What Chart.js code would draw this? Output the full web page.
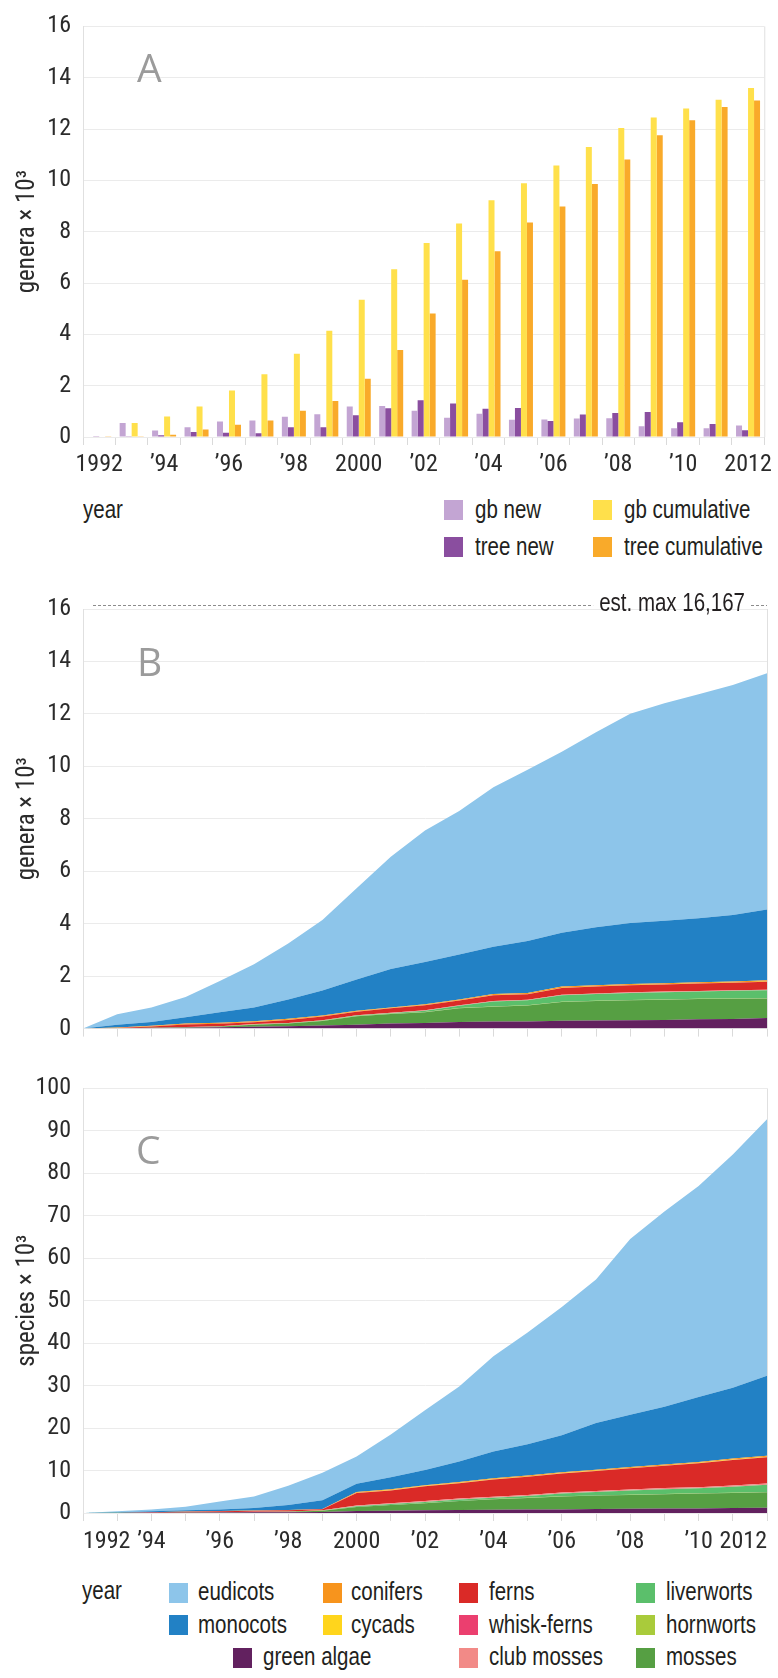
<!DOCTYPE html>
<html>
<head>
<meta charset="utf-8">
<script src="https://cdn.jsdelivr.net/npm/chart.js@4.4.1/dist/chart.umd.min.js"></script>
<style>
  body { margin: 0; background: #fff; width: 778px; height: 1678px; position: relative; overflow: hidden;
         font-family: 'Liberation Sans', Arial, sans-serif; color: #231f20; }
  canvas { position: absolute; left: 0; }
  .lbl { position: absolute; font-size: 25px; line-height: 25px; white-space: nowrap;
         transform: scaleX(0.82); transform-origin: 0 0; }
  .sw { position: absolute; width: 19px; height: 20px; }
  .panel { position: absolute; font-family: 'Open Sans', sans-serif; font-size: 39px; line-height: 39px; color: #9b9b9b; }
</style>
</head>
<body>
<canvas id="chartA" width="778" height="490" style="top:0px"></canvas>
<canvas id="chartB" width="778" height="480" style="top:575px"></canvas>
<canvas id="chartC" width="778" height="500" style="top:1062px"></canvas>
<div class="panel" style="left:137px;top:47px">A</div>
<div class="panel" style="left:137px;top:641px">B</div>
<div class="panel" style="left:136px;top:1129px">C</div>
<div id="legends"></div>
<script>
// ---- data ----
const years = ['1992','1993','1994','1995','1996','1997','1998','1999','2000','2001','2002',
               '2003','2004','2005','2006','2007','2008','2009','2010','2011','2012'];
const tickLabels = ['1992','','’94','','’96','','’98','','2000','','’02',
                    '','’04','','’06','','’08','','’10','','2012'];

// panel A, genera x 10^3
const gbNew     = [0.02, 0.55, 0.25, 0.38, 0.60, 0.64, 0.79, 0.89, 1.19, 1.21, 1.02, 0.75, 0.91, 0.67, 0.68, 0.72, 0.73, 0.42, 0.34, 0.34, 0.45];
const treeNew   = [0.01, 0.03, 0.07, 0.19, 0.17, 0.15, 0.38, 0.38, 0.85, 1.12, 1.43, 1.31, 1.10, 1.13, 0.62, 0.88, 0.94, 0.97, 0.57, 0.51, 0.26];
const gbCum     = [0.02, 0.55, 0.80, 1.19, 1.81, 2.45, 3.24, 4.14, 5.35, 6.54, 7.56, 8.32, 9.23, 9.89, 10.58, 11.30, 12.04, 12.45, 12.80, 13.14, 13.60];
const treeCum   = [0.01, 0.03, 0.09, 0.29, 0.48, 0.64, 1.02, 1.40, 2.27, 3.39, 4.81, 6.13, 7.24, 8.36, 8.98, 9.86, 10.81, 11.76, 12.34, 12.86, 13.11];

// panel B, genera x 10^3 per group (stack thickness)
const bGreenAlgae = [0, 0.005, 0.02, 0.03, 0.05, 0.07, 0.09, 0.12, 0.15, 0.19, 0.21, 0.25, 0.27, 0.27, 0.30, 0.31, 0.32, 0.33, 0.36, 0.37, 0.40];
const bMosses     = [0, 0.005, 0.01, 0.02, 0.03, 0.08, 0.10, 0.17, 0.32, 0.37, 0.41, 0.53, 0.56, 0.61, 0.71, 0.74, 0.76, 0.77, 0.77, 0.77, 0.75];
const bHornworts  = [0, 0, 0, 0, 0, 0.005, 0.005, 0.005, 0.01, 0.01, 0.01, 0.01, 0.01, 0.01, 0.01, 0.01, 0.01, 0.01, 0.01, 0.01, 0.01];
const bLiverworts = [0, 0, 0, 0, 0, 0.005, 0.005, 0.015, 0.02, 0.02, 0.05, 0.08, 0.19, 0.19, 0.25, 0.26, 0.27, 0.28, 0.27, 0.29, 0.30];
const bClubMosses = [0, 0, 0.005, 0.005, 0.005, 0.01, 0.01, 0.01, 0.01, 0.015, 0.015, 0.015, 0.02, 0.02, 0.02, 0.02, 0.02, 0.02, 0.02, 0.02, 0.02];
const bWhiskFerns = [0, 0, 0, 0.002, 0.002, 0.002, 0.002, 0.002, 0.002, 0.002, 0.002, 0.002, 0.002, 0.002, 0.002, 0.002, 0.002, 0.002, 0.002, 0.002, 0.002];
const bFerns      = [0, 0.01, 0.045, 0.095, 0.095, 0.07, 0.12, 0.14, 0.13, 0.165, 0.195, 0.185, 0.22, 0.21, 0.26, 0.26, 0.27, 0.27, 0.29, 0.29, 0.30];
const bCycads     = [0, 0.005, 0.005, 0.005, 0.005, 0.01, 0.01, 0.01, 0.01, 0.01, 0.01, 0.01, 0.01, 0.01, 0.01, 0.01, 0.01, 0.01, 0.01, 0.01, 0.01];
const bConifers   = [0, 0.015, 0.025, 0.035, 0.035, 0.03, 0.03, 0.03, 0.03, 0.02, 0.03, 0.03, 0.04, 0.04, 0.04, 0.04, 0.04, 0.04, 0.04, 0.03, 0.05];
const bMonocots   = [0, 0.11, 0.14, 0.24, 0.40, 0.52, 0.74, 0.95, 1.19, 1.47, 1.61, 1.71, 1.80, 1.98, 2.05, 2.21, 2.32, 2.38, 2.44, 2.54, 2.70];
const bEudicots   = [0, 0.40, 0.55, 0.77, 1.19, 1.65, 2.13, 2.69, 3.48, 4.28, 5.01, 5.48, 6.08, 6.53, 6.90, 7.44, 7.98, 8.29, 8.54, 8.77, 9.01];
const estMax = 16.167;
const estMaxLabel = 'est. max 16,167';

// panel C, species x 10^3 per group (stack thickness)
const cGreenAlgae = [0, 0.02, 0.05, 0.08, 0.12, 0.15, 0.18, 0.25, 0.45, 0.55, 0.62, 0.70, 0.77, 0.85, 0.85, 0.93, 1.00, 1.08, 1.08, 1.16, 1.24];
const cMosses     = [0, 0.01, 0.02, 0.03, 0.04, 0.07, 0.12, 0.30, 0.95, 1.31, 1.68, 2.10, 2.48, 2.70, 3.05, 3.17, 3.25, 3.32, 3.52, 3.54, 3.66];
const cHornworts  = [0, 0, 0, 0, 0, 0, 0, 0.01, 0.03, 0.03, 0.03, 0.04, 0.04, 0.04, 0.04, 0.05, 0.05, 0.05, 0.05, 0.05, 0.05];
const cLiverworts = [0, 0, 0, 0, 0.01, 0.02, 0.02, 0.04, 0.17, 0.21, 0.27, 0.36, 0.31, 0.41, 0.66, 0.80, 1.00, 1.15, 1.15, 1.45, 1.70];
const cClubMosses = [0, 0, 0.01, 0.02, 0.02, 0.03, 0.03, 0.05, 0.15, 0.18, 0.20, 0.20, 0.22, 0.22, 0.24, 0.25, 0.25, 0.26, 0.26, 0.27, 0.28];
const cWhiskFerns = [0, 0, 0, 0, 0, 0, 0, 0.005, 0.01, 0.01, 0.01, 0.01, 0.01, 0.01, 0.01, 0.01, 0.01, 0.01, 0.01, 0.01, 0.01];
const cFerns      = [0, 0.03, 0.07, 0.17, 0.21, 0.28, 0.27, 0.20, 2.95, 3.02, 3.50, 3.60, 4.08, 4.28, 4.46, 4.70, 4.95, 5.24, 5.64, 6.03, 6.17];
const cCycads     = [0, 0, 0.01, 0.01, 0.01, 0.02, 0.02, 0.02, 0.08, 0.08, 0.08, 0.09, 0.09, 0.09, 0.10, 0.10, 0.10, 0.10, 0.10, 0.10, 0.11];
const cConifers   = [0, 0.02, 0.02, 0.03, 0.04, 0.03, 0.06, 0.06, 0.17, 0.22, 0.12, 0.21, 0.21, 0.21, 0.20, 0.20, 0.20, 0.20, 0.20, 0.20, 0.29];
const cMonocots   = [0, 0.07, 0.22, 0.28, 0.40, 0.56, 1.16, 2.07, 1.95, 2.80, 3.60, 4.80, 6.30, 7.40, 8.70, 11.0, 12.3, 13.6, 15.3, 16.7, 18.8];
const cEudicots   = [0, 0.25, 0.45, 0.88, 1.85, 2.74, 4.54, 6.50, 6.40, 10.1, 14.1, 17.7, 22.4, 26.3, 30.2, 33.8, 41.4, 46.0, 49.7, 54.9, 60.4];

// ---- styles ----
const FONT = "'Roboto Condensed', 'DejaVu Sans Condensed', sans-serif";
const TEXT = '#2b2b2b';
const GRID = '#ebebeb';
const EDGE = '#e0e0e0';

const barColors = { 'gb new': '#c3a5d3', 'tree new': '#8a4e9f', 'gb cumulative': '#ffe04b', 'tree cumulative': '#f9aa2a' };
const groupColors = {
  'green algae': '#62215f', 'mosses': '#569f43', 'hornworts': '#a9cb3b', 'liverworts': '#5bbf6b',
  'club mosses': '#f28a87', 'whisk-ferns': '#eb3f6f', 'ferns': '#da2a27', 'cycads': '#ffd51c',
  'conifers': '#f7941d', 'monocots': '#2281c5', 'eudicots': '#8dc5ea'
};

Chart.defaults.font.family = FONT;
Chart.defaults.color = TEXT;

const frame = {
  id: 'frame',
  afterDatasetsDraw(chart) {
    const { ctx, chartArea: a } = chart;
    ctx.save();
    ctx.strokeStyle = EDGE;
    ctx.lineWidth = 1;
    ctx.beginPath();
    ctx.moveTo(a.right + 0.5, a.top);
    ctx.lineTo(a.right + 0.5, a.bottom);
    ctx.stroke();
    ctx.restore();
  }
};

// dashed "est. max" line, label squeezed like the condensed face of the original
const estMaxLine = {
  id: 'estMax',
  afterDraw(chart) {
    const { ctx, chartArea: a, scales: { y } } = chart;
    const py = Math.round(y.getPixelForValue(estMax)) + 0.5;
    const squeeze = 0.82;
    ctx.save();
    ctx.font = "25px 'Liberation Sans', Arial, sans-serif";
    const tw = ctx.measureText(estMaxLabel).width * squeeze;
    const tx = a.right - 22 - tw;
    ctx.strokeStyle = '#8c8c8c';
    ctx.lineWidth = 1;
    ctx.setLineDash([3, 2]);
    ctx.beginPath();
    ctx.moveTo(a.left + 10, py);
    ctx.lineTo(tx - 6, py);
    ctx.moveTo(a.right - 16, py);
    ctx.lineTo(a.right, py);
    ctx.stroke();
    ctx.setLineDash([]);
    ctx.fillStyle = '#231f20';
    ctx.textBaseline = 'middle';
    ctx.translate(tx, py - 1.5);
    ctx.scale(squeeze, 1);
    ctx.fillText(estMaxLabel, 0, 0);
    ctx.restore();
  }
};

function yScale(max, step, title, stacked) {
  return {
    stacked: stacked,
    min: 0,
    max: max,
    ticks: { stepSize: step, padding: 12, color: TEXT, font: { size: 24 } },
    grid: { color: GRID, drawTicks: false },
    border: { color: EDGE },
    title: { display: true, text: title, color: TEXT, font: { size: 25 }, padding: { top: 13 } },
    afterFit(s) { s.width = 83; }
  };
}

function xScale(isBar, showLabels, height, pad) {
  return {
    type: 'category',
    offset: isBar,
    stacked: !isBar,
    grid: { offset: isBar, drawOnChartArea: false, tickLength: 8, tickColor: '#dadada' },
    border: { display: false },
    ticks: {
      display: showLabels, autoSkip: false, maxRotation: 0, align: isBar ? 'center' : 'inner',
      padding: pad, color: TEXT, font: { size: 24 },
      callback: (v, i) => tickLabels[i]
    },
    afterFit(s) { s.height = height; }
  };
}

const common = {
  responsive: false,
  animation: false,
  devicePixelRatio: 1,
  plugins: { legend: { display: false }, tooltip: { enabled: false } }
};

// ---- panel A ----
new Chart(document.getElementById('chartA'), {
  type: 'bar',
  data: {
    labels: years,
    datasets: [
      { label: 'gb new', data: gbNew, backgroundColor: barColors['gb new'] },
      { label: 'tree new', data: treeNew, backgroundColor: barColors['tree new'] },
      { label: 'gb cumulative', data: gbCum, backgroundColor: barColors['gb cumulative'] },
      { label: 'tree cumulative', data: treeCum, backgroundColor: barColors['tree cumulative'] }
    ]
  },
  options: {
    ...common,
    layout: { padding: { top: 17, right: 11, left: 0, bottom: 0 } },
    datasets: { bar: { barPercentage: 1, categoryPercentage: 0.74 } },
    scales: {
      x: xScale(true, true, 53, 6),
      y: yScale(16, 2, 'genera × 10³', false)
    }
  },
  plugins: [frame]
});

// ---- stacked area panels ----
function areaSets(groups) {
  return groups.map((g, i) => ({
    label: g[0],
    data: g[1],
    backgroundColor: groupColors[g[0]],
    borderWidth: 0,
    pointRadius: 0,
    tension: 0,
    fill: i === 0 ? 'origin' : '-1'
  }));
}

const bGroups = [
  ['green algae', bGreenAlgae], ['mosses', bMosses], ['hornworts', bHornworts], ['liverworts', bLiverworts],
  ['club mosses', bClubMosses], ['whisk-ferns', bWhiskFerns], ['ferns', bFerns], ['cycads', bCycads],
  ['conifers', bConifers], ['monocots', bMonocots], ['eudicots', bEudicots]
];
const cGroups = [
  ['green algae', cGreenAlgae], ['mosses', cMosses], ['hornworts', cHornworts], ['liverworts', cLiverworts],
  ['club mosses', cClubMosses], ['whisk-ferns', cWhiskFerns], ['ferns', cFerns], ['cycads', cCycads],
  ['conifers', cConifers], ['monocots', cMonocots], ['eudicots', cEudicots]
];

new Chart(document.getElementById('chartB'), {
  type: 'line',
  data: { labels: years, datasets: areaSets(bGroups) },
  options: {
    ...common,
    layout: { padding: { top: 34, right: 11, left: 0, bottom: 0 } },
    scales: {
      x: xScale(false, false, 15, 0),
      y: yScale(16, 2, 'genera × 10³', true)
    }
  },
  plugins: [frame, estMaxLine]
});

new Chart(document.getElementById('chartC'), {
  type: 'line',
  data: { labels: years, datasets: areaSets(cGroups) },
  options: {
    ...common,
    layout: { padding: { top: 20, right: 11, left: 0, bottom: 0 } },
    scales: {
      x: xScale(false, true, 49, 7),
      y: yScale(100, 10, 'species × 10³', true)
    }
  },
  plugins: [frame]
});

// ---- legends (html text) ----
const legendItems = [
  // panel A
  { text: 'year', x: 83, y: 497 },
  { name: 'gb new', color: barColors['gb new'], sx: 444, sy: 500, x: 475, y: 497 },
  { name: 'tree new', color: barColors['tree new'], sx: 444, sy: 537, x: 475, y: 534 },
  { name: 'gb cumulative', color: barColors['gb cumulative'], sx: 593, sy: 500, x: 624, y: 497 },
  { name: 'tree cumulative', color: barColors['tree cumulative'], sx: 593, sy: 537, x: 624, y: 534 },
  // panel C
  { text: 'year', x: 82, y: 1578 },
  { name: 'eudicots', color: groupColors['eudicots'], sx: 169, sy: 1583, x: 198, y: 1579 },
  { name: 'monocots', color: groupColors['monocots'], sx: 169, sy: 1615, x: 198, y: 1612 },
  { name: 'green algae', color: groupColors['green algae'], sx: 233, sy: 1648, x: 263, y: 1644 },
  { name: 'conifers', color: groupColors['conifers'], sx: 323, sy: 1583, x: 351, y: 1579 },
  { name: 'cycads', color: groupColors['cycads'], sx: 323, sy: 1615, x: 351, y: 1612 },
  { name: 'ferns', color: groupColors['ferns'], sx: 459, sy: 1583, x: 489, y: 1579 },
  { name: 'whisk-ferns', color: groupColors['whisk-ferns'], sx: 459, sy: 1615, x: 489, y: 1612 },
  { name: 'club mosses', color: groupColors['club mosses'], sx: 459, sy: 1648, x: 489, y: 1644 },
  { name: 'liverworts', color: groupColors['liverworts'], sx: 636, sy: 1583, x: 666, y: 1579 },
  { name: 'hornworts', color: groupColors['hornworts'], sx: 636, sy: 1615, x: 666, y: 1612 },
  { name: 'mosses', color: groupColors['mosses'], sx: 636, sy: 1648, x: 666, y: 1644 }
];

const holder = document.getElementById('legends');
legendItems.forEach(it => {
  if (it.color) {
    const sw = document.createElement('div');
    sw.className = 'sw';
    sw.style.left = it.sx + 'px';
    sw.style.top = it.sy + 'px';
    sw.style.background = it.color;
    holder.appendChild(sw);
  }
  const t = document.createElement('div');
  t.className = 'lbl';
  t.style.left = it.x + 'px';
  t.style.top = it.y + 'px';
  t.textContent = it.name || it.text;
  holder.appendChild(t);
});
</script>
</body>
</html>
